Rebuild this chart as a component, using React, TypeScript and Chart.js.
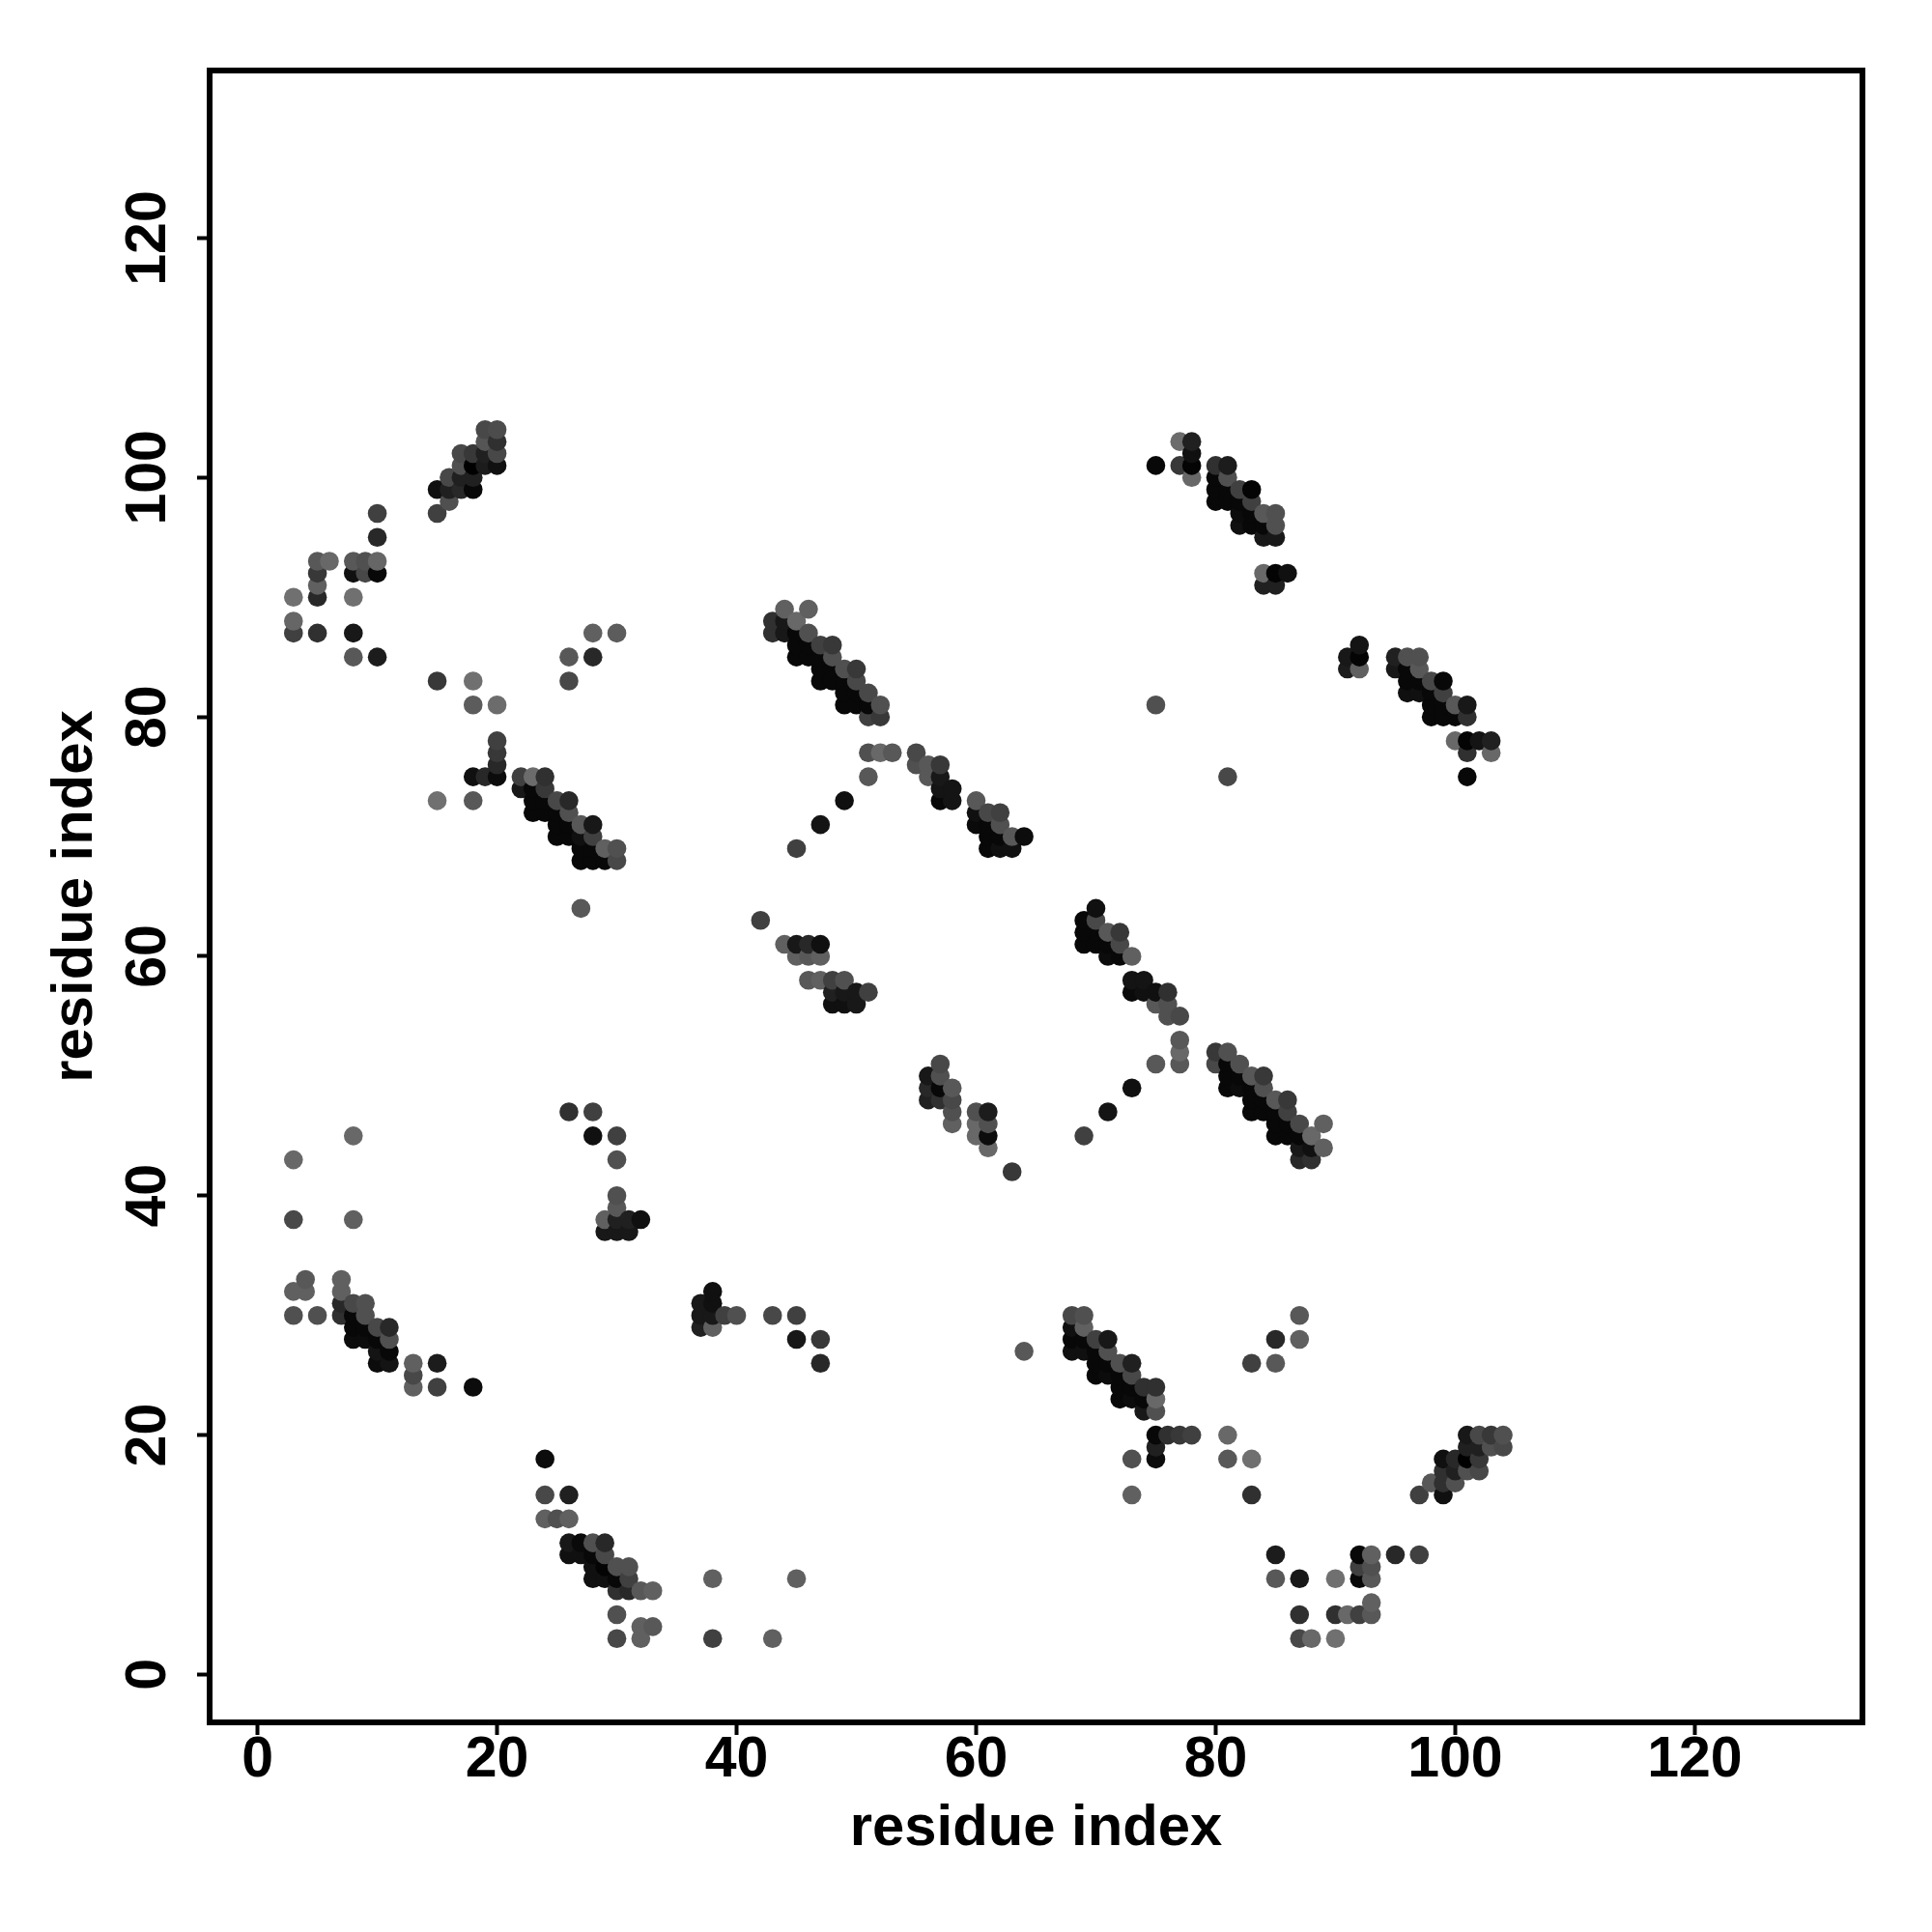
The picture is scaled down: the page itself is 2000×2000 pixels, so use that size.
import React, { useEffect, useRef } from "react";
import { Chart, registerables } from "chart.js";

Chart.register(...registerables);

// each contact: [residue x, residue y, grey level]
type Contact = [number, number, number];

const tickValues = [0, 20, 40, 60, 80, 100, 120];
const axisTitle = "residue index";

const topLeftScatter: Contact[] = [
  [3,90,0x70],[3,88,0x66],[3,87,0x40],
  [5,93,0x58],[5,92,0x38],[5,91,0x60],[5,90,0x28],[5,87,0x30],[6,93,0x68],
  [8,93,0x58],[8,92,0x10],[8,90,0x70],[8,87,0x18],[8,85,0x58],
  [9,93,0x50],[9,92,0x48],
  [10,93,0x66],[10,92,0x08],[10,95,0x28],[10,97,0x40],[10,85,0x1c],
];
const helixTop: Contact[] = [
  [15,99,0x10],[15,97,0x40],[16,98,0x50],[16,99,0x20],[16,100,0x48],
  [17,102,0x48],[17,101,0x50],[17,100,0x20],[17,99,0x28],
  [18,102,0x38],[18,101,0x00],[18,100,0x20],[18,99,0x08],
  [19,104,0x48],[19,103,0x55],[19,102,0x20],[19,101,0x1c],
  [20,104,0x4c],[20,103,0x30],[20,102,0x48],[20,101,0x10],
];
const band70: Contact[] = [
  [15,83,0x38],[18,83,0x70],[18,81,0x5c],[20,81,0x6c],
  [26,85,0x58],[26,83,0x48],[28,87,0x60],[28,85,0x28],[30,87,0x5c],
  [20,78,0x40],[20,77,0x38],[20,76,0x28],[20,75,0x0c],[18,75,0x10],[19,75,0x28],
  [15,73,0x70],[18,73,0x58],
  [22,75,0x40],[22,74,0x18],
  [23,75,0x6c],[23,74,0x08],[23,73,0x08],[23,72,0x08],
  [24,75,0x30],[24,74,0x38],[24,73,0x08],[24,72,0x08],
  [25,73,0x48],[25,72,0x08],[25,71,0x08],[25,70,0x08],
  [26,73,0x28],[26,72,0x50],[26,71,0x08],[26,70,0x08],
  [27,71,0x58],[27,70,0x10],[27,69,0x08],[27,68,0x08],
  [28,71,0x18],[28,70,0x40],[28,69,0x08],[28,68,0x08],
  [29,69,0x60],[29,68,0x08],[30,69,0x50],[30,68,0x48],[27,64,0x58],
];
const band85: Contact[] = [
  [43,88,0x30],[43,87,0x30],
  [44,89,0x60],[44,88,0x18],[44,87,0x18],
  [45,88,0x68],[45,87,0x08],[45,86,0x08],[45,85,0x08],
  [46,89,0x60],[46,87,0x50],[46,86,0x08],[46,85,0x08],
  [47,86,0x40],[47,85,0x08],[47,84,0x08],[47,83,0x08],
  [48,86,0x38],[48,85,0x50],[48,84,0x08],[48,83,0x08],
  [49,84,0x50],[49,83,0x08],[49,82,0x08],[49,81,0x08],
  [50,84,0x38],[50,83,0x48],[50,82,0x08],[50,81,0x08],
  [51,82,0x48],[51,81,0x08],[51,80,0x40],
  [52,81,0x50],[52,80,0x38],
  [51,77,0x50],[51,75,0x58],[52,77,0x68],[53,77,0x58],
  [49,73,0x10],[47,71,0x14],[45,69,0x40],
  [55,77,0x48],[55,76,0x50],[56,76,0x58],[56,75,0x58],
  [57,76,0x38],[57,75,0x18],[57,74,0x14],[57,73,0x08],
  [58,74,0x14],[58,73,0x14],
  [60,73,0x58],[60,72,0x10],[60,71,0x0a],
  [61,72,0x48],[61,71,0x08],[61,70,0x08],[61,69,0x08],
  [62,72,0x40],[62,71,0x50],[62,70,0x08],[62,69,0x10],
  [63,70,0x58],[63,69,0x10],[64,70,0x0c],
];
const helixUpperRight: Contact[] = [
  [75,101,0x08],[77,103,0x6c],[77,101,0x38],
  [78,103,0x20],[78,102,0x10],[78,101,0x04],[78,100,0x68],
  [80,101,0x30],[80,100,0x08],[80,99,0x08],[80,98,0x08],
  [81,101,0x1c],[81,100,0x50],[81,99,0x08],[81,98,0x08],
  [82,99,0x40],[82,98,0x08],[82,97,0x0c],[82,96,0x10],
  [83,99,0x04],[83,98,0x40],[83,97,0x08],[83,96,0x08],
  [84,97,0x58],[84,96,0x08],[84,95,0x18],
  [85,97,0x50],[85,96,0x50],[85,95,0x18],
  [84,92,0x68],[84,91,0x20],[85,92,0x04],[85,91,0x20],[86,92,0x10],
  [75,81,0x50],[81,75,0x48],
];
const band80Right: Contact[] = [
  [91,85,0x18],[91,84,0x1c],[92,86,0x14],[92,85,0x04],[92,84,0x60],
  [95,85,0x20],[95,84,0x18],
  [96,85,0x50],[96,84,0x08],[96,83,0x08],[96,82,0x10],
  [97,85,0x50],[97,84,0x58],[97,83,0x08],[97,82,0x10],
  [98,83,0x48],[98,82,0x08],[98,81,0x08],[98,80,0x08],
  [99,83,0x08],[99,82,0x40],[99,81,0x08],[99,80,0x08],
  [100,81,0x58],[100,80,0x08],[100,78,0x68],
  [101,81,0x18],[101,80,0x30],[101,78,0x04],[101,77,0x30],[101,75,0x08],
  [102,78,0x14],[103,78,0x20],[103,77,0x68],
];
const band60: Contact[] = [
  [42,63,0x40],
  [44,61,0x60],[45,61,0x18],[46,61,0x28],[47,61,0x10],
  [45,60,0x60],[46,60,0x58],[47,60,0x60],
  [46,58,0x58],[47,58,0x60],[48,58,0x40],[49,58,0x50],
  [48,57,0x20],[49,57,0x18],[50,57,0x18],[51,57,0x40],
  [48,56,0x10],[49,56,0x10],[50,56,0x18],
  [56,50,0x18],[56,49,0x28],[56,48,0x20],
  [57,51,0x48],[57,50,0x50],[57,49,0x08],[57,48,0x30],
  [58,49,0x58],[58,48,0x48],[58,47,0x50],[58,46,0x60],
  [60,47,0x50],[60,46,0x68],[60,45,0x68],
  [61,47,0x1c],[61,46,0x50],[61,45,0x0c],[61,44,0x68],
  [63,42,0x38],
];
const band60Right: Contact[] = [
  [69,63,0x08],[69,62,0x08],[69,61,0x08],
  [70,64,0x10],[70,63,0x48],[70,62,0x08],[70,61,0x08],
  [71,62,0x58],[71,61,0x08],[71,60,0x0c],
  [72,62,0x38],[72,61,0x48],[72,60,0x08],
  [73,60,0x60],[73,58,0x14],[73,57,0x0a],
  [74,58,0x14],[74,57,0x10],[75,57,0x10],[75,56,0x58],
  [76,57,0x30],[76,56,0x50],[76,55,0x50],
  [77,55,0x48],[77,53,0x58],[77,52,0x68],[77,51,0x58],[75,51,0x58],
  [73,49,0x10],[71,47,0x14],[69,45,0x40],
  [80,52,0x38],[80,51,0x48],
  [81,52,0x50],[81,51,0x08],[81,50,0x08],[81,49,0x08],
  [82,51,0x50],[82,50,0x08],[82,49,0x0c],
  [83,50,0x58],[83,49,0x08],[83,48,0x08],[83,47,0x08],
  [84,50,0x38],[84,49,0x50],[84,48,0x08],[84,47,0x08],
  [85,48,0x58],[85,47,0x08],[85,46,0x08],[85,45,0x08],
  [86,48,0x38],[86,47,0x40],[86,46,0x08],[86,45,0x08],
  [87,46,0x48],[87,45,0x08],[87,44,0x18],[87,43,0x28],
  [88,45,0x68],[88,44,0x10],[88,43,0x30],
  [89,46,0x60],[89,44,0x60],
];
const mid40: Contact[] = [
  [3,43,0x68],[8,45,0x68],[3,38,0x48],[8,38,0x60],
  [26,47,0x30],[28,47,0x40],[28,45,0x10],[30,45,0x40],[30,43,0x50],
  [30,40,0x50],[30,39,0x58],[29,38,0x60],[30,38,0x20],[31,38,0x20],[32,38,0x10],
  [29,37,0x18],[30,37,0x18],[31,37,0x18],
];
const band30: Contact[] = [
  [3,32,0x60],[3,30,0x50],[4,33,0x58],[4,32,0x60],[5,30,0x50],
  [7,33,0x60],[7,32,0x60],[7,31,0x28],[7,30,0x30],
  [8,31,0x48],[8,30,0x08],[8,29,0x08],[8,28,0x0c],
  [9,31,0x50],[9,30,0x50],[9,29,0x08],[9,28,0x0c],
  [10,29,0x48],[10,28,0x08],[10,27,0x14],[10,26,0x0c],
  [11,29,0x28],[11,28,0x50],[11,27,0x08],[11,26,0x14],
  [13,26,0x60],[13,25,0x48],[13,24,0x60],
  [15,26,0x1c],[15,24,0x40],[18,24,0x0c],
];
const band10: Contact[] = [
  [24,18,0x0c],[24,15,0x48],[24,13,0x60],[25,13,0x50],
  [26,15,0x20],[26,13,0x60],[26,11,0x18],[26,10,0x10],
  [27,11,0x0a],[27,10,0x10],
  [28,11,0x50],[28,10,0x08],[28,9,0x10],[28,8,0x10],
  [29,11,0x28],[29,10,0x48],[29,9,0x04],[29,8,0x10],
  [30,9,0x50],[30,8,0x08],[30,7,0x30],[30,5,0x50],[30,3,0x48],
  [31,9,0x50],[31,8,0x40],[31,7,0x28],
  [32,7,0x58],[32,4,0x60],[32,3,0x60],[33,7,0x60],[33,4,0x58],
];
const mid30: Contact[] = [
  [37,31,0x18],[37,30,0x18],[37,29,0x20],
  [38,32,0x10],[38,31,0x10],[38,30,0x18],[38,29,0x60],
  [39,30,0x40],[40,30,0x50],[43,30,0x48],[45,30,0x40],[45,28,0x18],
  [47,28,0x38],[47,26,0x28],
  [38,8,0x60],[38,3,0x40],[43,3,0x60],[45,8,0x60],[64,27,0x58],
];
const band25Right: Contact[] = [
  [68,30,0x48],[68,29,0x10],[68,28,0x08],[68,27,0x10],
  [69,30,0x50],[69,29,0x60],[69,28,0x08],[69,27,0x10],
  [70,28,0x40],[70,27,0x08],[70,26,0x08],[70,25,0x08],
  [71,28,0x18],[71,27,0x50],[71,26,0x08],[71,25,0x0c],
  [72,26,0x50],[72,25,0x08],[72,24,0x08],[72,23,0x08],
  [73,26,0x20],[73,25,0x48],[73,24,0x08],[73,23,0x0c],
  [74,24,0x30],[74,23,0x08],[74,22,0x18],
  [75,24,0x30],[75,23,0x68],[75,22,0x50],
  [75,20,0x08],[75,19,0x20],[75,18,0x0c],[76,20,0x30],[77,20,0x38],[78,20,0x40],
  [73,18,0x50],[73,15,0x60],
  [81,20,0x68],[81,18,0x58],[83,18,0x70],[83,15,0x30],
  [83,26,0x40],[85,26,0x58],[85,28,0x28],[87,28,0x60],[87,30,0x58],
];
const bottomRight: Contact[] = [
  [85,10,0x1c],[85,8,0x58],[87,8,0x18],[87,5,0x30],[87,3,0x48],[88,3,0x68],
  [90,8,0x70],[90,5,0x30],[90,3,0x70],[91,5,0x68],
  [92,10,0x08],[92,9,0x40],[92,8,0x08],[92,5,0x40],
  [93,10,0x60],[93,9,0x50],[93,8,0x58],[93,6,0x60],[93,5,0x58],
  [95,10,0x28],[97,10,0x40],
  [97,15,0x40],[98,16,0x58],
  [99,18,0x10],[99,17,0x30],[99,16,0x30],[99,15,0x10],
  [100,18,0x28],[100,17,0x20],[100,16,0x50],
  [101,20,0x18],[101,19,0x20],[101,18,0x00],[101,17,0x50],
  [102,20,0x48],[102,19,0x20],[102,18,0x38],[102,17,0x48],
  [103,20,0x38],[103,19,0x50],
  [104,20,0x50],[104,19,0x48],
];

const contacts: Contact[] = [
  ...topLeftScatter, ...helixTop, ...band70, ...band85, ...helixUpperRight, ...band80Right,
  ...band60, ...band60Right, ...mid40, ...band30, ...band10, ...mid30, ...band25Right, ...bottomRight,
].sort((a, b) => a[0] - b[0] || a[1] - b[1]);

const TICK_FONT = { family: "'Liberation Sans'", size: 59, weight: "bold" as const, lineHeight: 1.2 };
const TITLE_FONT = { family: "'Liberation Sans'", size: 59.8, weight: "bold" as const, lineHeight: 1.2 };

const framePlugin = {
  id: "frame",
  afterDatasetsDraw(chart: any) {
    const { ctx, chartArea: a } = chart;
    ctx.save();
    ctx.strokeStyle = "#000";
    ctx.lineWidth = 6;
    ctx.strokeRect(a.left, a.top, a.right - a.left, a.bottom - a.top);
    ctx.restore();
  },
};

export default function App() {
  const ref = useRef<HTMLCanvasElement>(null);
  useEffect(() => {
    const setTicks = (s: any) => {
      s.ticks = tickValues.map((value) => ({ value }));
    };
    const chart = new Chart(ref.current!, {
      type: "scatter",
      data: {
        datasets: [
          {
            data: contacts.map(([x, y]) => ({ x, y })),
            pointBackgroundColor: contacts.map(([, , g]) => `rgb(${g},${g},${g})`),
            pointBorderWidth: 0,
            pointRadius: 9.8,
            pointHoverRadius: 9.8,
          },
        ],
      },
      plugins: [framePlugin],
      options: {
        animation: false,
        responsive: false,
        events: [],
        layout: { padding: { top: 73, right: 72, left: 0, bottom: 0 } },
        plugins: { legend: { display: false }, tooltip: { enabled: false } },
        scales: {
          x: {
            type: "linear",
            min: -4,
            max: 134,
            afterBuildTicks: setTicks,
            afterFit: (s: any) => {
              s.height = 217;
            },
            grid: { drawOnChartArea: false, drawTicks: true, tickLength: 13, tickWidth: 4, tickColor: "#000" },
            border: { display: false },
            ticks: {
              color: "#000",
              font: TICK_FONT,
              padding: -9,
              autoSkip: false,
              maxRotation: 0,
              minRotation: 0,
              callback: (v: any) => String(v),
            },
            title: { display: true, text: axisTitle, color: "#000", font: TITLE_FONT, padding: { top: 0, bottom: 70.5 } },
          },
          y: {
            type: "linear",
            min: -4,
            max: 134,
            afterBuildTicks: setTicks,
            afterFit: (s: any) => {
              s.width = 217;
            },
            grid: { drawOnChartArea: false, drawTicks: true, tickLength: 13, tickWidth: 4, tickColor: "#000" },
            border: { display: false },
            ticks: {
              color: "#000",
              font: TICK_FONT,
              padding: 0,
              autoSkip: false,
              minRotation: 90,
              maxRotation: 90,
              crossAlign: "center",
              callback: (v: any) => String(v),
            },
            title: { display: true, text: axisTitle, color: "#000", font: TITLE_FONT, padding: { top: 43, bottom: 0 } },
          },
        },
      },
    });
    return () => chart.destroy();
  }, []);
  return (
    <div style={{ position: "absolute", left: 0, top: 0, width: 2000, height: 2000, background: "#fff" }}>
      <canvas ref={ref} width={2000} height={2000} style={{ display: "block" }} />
    </div>
  );
}
